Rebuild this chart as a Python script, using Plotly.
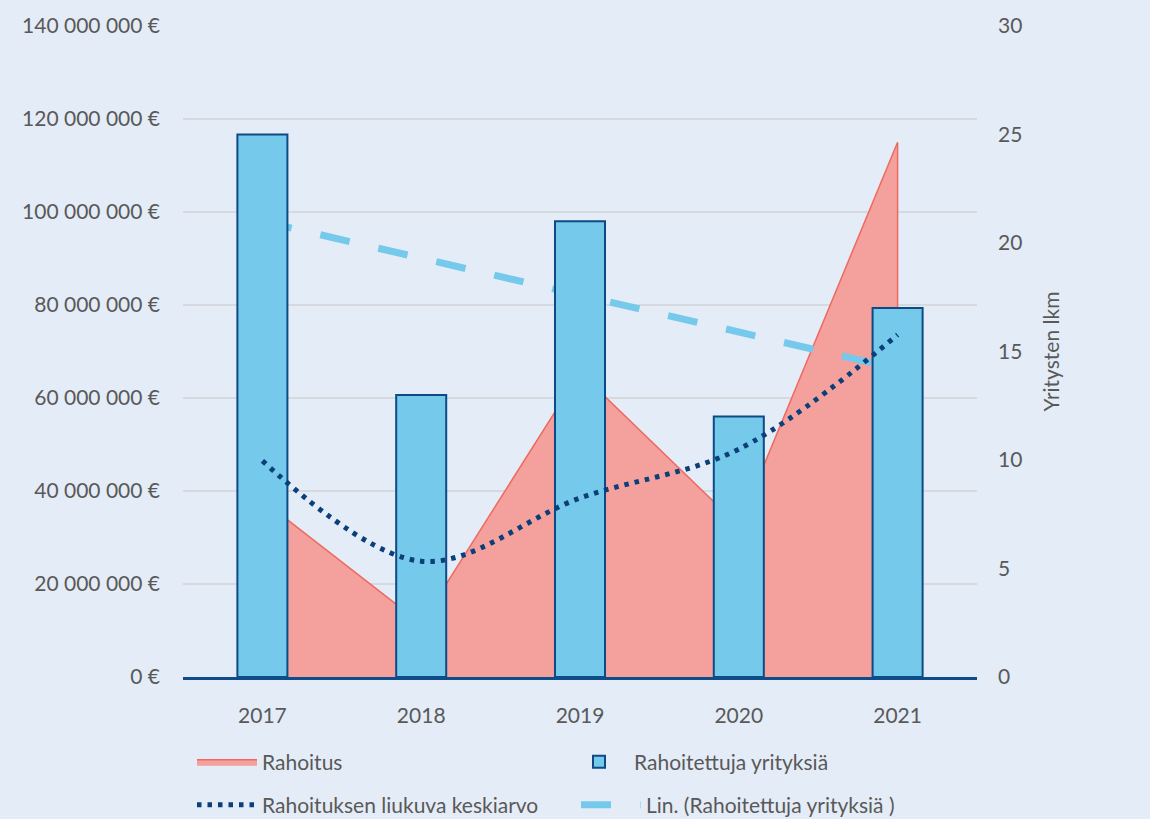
import plotly.graph_objects as go

years = ["2017", "2018", "2019", "2020", "2021"]
rahoitus = [38_000_000, 11_500_000, 65_500_000, 32_500_000, 115_000_000]
yrityksia = [25, 13, 21, 12, 17]
liukuva = [46_500_000, 24_900_000, 38_500_000, 49_000_000, 73_600_000]
trendi = [21.0, 19.3, 17.6, 15.9, 14.2]

left_ticks = [0, 20_000_000, 40_000_000, 60_000_000, 80_000_000, 100_000_000, 120_000_000, 140_000_000]
left_labels = ["0 €", "20 000 000 €", "40 000 000 €", "60 000 000 €", "80 000 000 €",
               "100 000 000 €", "120 000 000 €", "140 000 000 €"]
right_ticks = [0, 5, 10, 15, 20, 25, 30]

BG = "#E4ECF7"
TXT = "#595959"
FONT = "Lato"

fig = go.Figure()

# Area (closed polygon down to zero at the ends)
fig.add_trace(go.Scatter(
    x=[years[0]] + years + [years[-1]],
    y=[0] + rahoitus + [0],
    mode="lines", fill="toself",
    fillcolor="#F4A09C", line=dict(color="#EE6A60", width=1.5),
    name="Rahoitus", yaxis="y", legend="legend", hoverinfo="skip",
))

# Linear trend (behind bars)
fig.add_trace(go.Scatter(
    x=years, y=trendi, mode="lines",
    line=dict(color="#75C9EB", width=7, dash="30px,29.5px"),
    name="Lin. (Rahoitettuja yrityksiä )", yaxis="y2", legend="legend4",
))

# Bars
fig.add_trace(go.Bar(
    x=years, y=yrityksia, width=0.315,
    marker=dict(color="#75C9EB", line=dict(color="#0D4A86", width=2)),
    name="Rahoitettuja yrityksiä", yaxis="y3", legend="legend2",
))

# Moving average (dotted, smoothed)
fig.add_trace(go.Scatter(
    x=years, y=liukuva, mode="lines",
    line=dict(color="#0B3F7A", width=5, dash="4.5px,6px", shape="spline", smoothing=1),
    name="Rahoituksen liukuva keskiarvo", yaxis="y4", legend="legend3",
))

legend_common = dict(
    xref="container", yref="container", xanchor="left", yanchor="middle",
    bgcolor="rgba(0,0,0,0)", font=dict(family=FONT, size=21, color=TXT),
    itemwidth=60, orientation="h",
)

fig.update_layout(
    width=1150, height=819,
    paper_bgcolor=BG, plot_bgcolor=BG,
    margin=dict(l=183, r=173, t=20, b=142),
    font=dict(family=FONT, size=21, color=TXT),
    showlegend=True,
    xaxis=dict(
        type="category", range=[-0.5, 4.5],
        showgrid=False, showline=True, linecolor="#0E4C8A", linewidth=2.5,
        ticks="", ticklabelstandoff=18,
        tickfont=dict(family=FONT, size=21, color=TXT),
        zeroline=False,
    ),
    yaxis=dict(
        range=[0, 140_000_000], tickvals=left_ticks, ticktext=left_labels,
        showgrid=True, gridcolor="#D6D9DE", gridwidth=1.5,
        zeroline=False, showline=False, ticks="", ticklabelstandoff=22,
        tickfont=dict(family=FONT, size=21, color=TXT),
    ),
    yaxis2=dict(
        range=[0, 30], tickvals=right_ticks, overlaying="y", side="right",
        showgrid=False, zeroline=False, showline=False, ticks="", ticklabelstandoff=20,
        tickfont=dict(family=FONT, size=21, color=TXT),
        title=dict(text="Yritysten lkm", font=dict(family=FONT, size=21, color=TXT), standoff=22),
    ),
    yaxis3=dict(
        range=[0, 30], overlaying="y", side="right", visible=False,
    ),
    yaxis4=dict(
        range=[0, 140_000_000], overlaying="y", side="left", visible=False,
    ),
    legend=dict(x=192 / 1150, y=1 - 762 / 819, **legend_common),
    legend2=dict(x=564 / 1150, y=1 - 762 / 819, **legend_common),
    legend3=dict(x=192 / 1150, y=1 - 805 / 819, **legend_common),
    legend4=dict(x=576 / 1150, y=1 - 805 / 819, **legend_common),
)

fig.write_html(
    "out.html",
    config={"displayModeBar": False},
    post_script="document.body.style.margin='0';document.body.style.overflow='hidden';",
)
